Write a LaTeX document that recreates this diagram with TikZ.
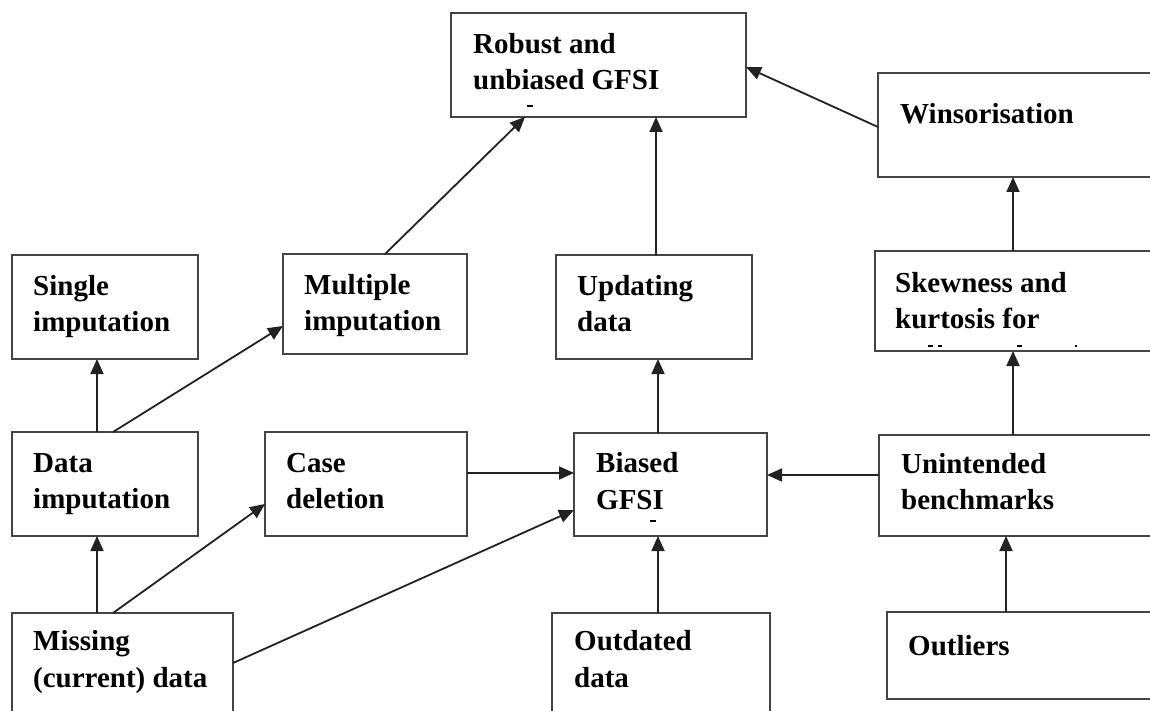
\documentclass[tikz,border=0pt]{standalone}
\usepackage{fontspec}
\setmainfont{Liberation Serif}
\usetikzlibrary{arrows.meta,calc}
\definecolor{boxc}{HTML}{444444}
\definecolor{arrc}{HTML}{222222}
\begin{document}
\begin{tikzpicture}[x=1pt,y=-1pt,
  box/.style={draw=boxc,line width=2.6pt,fill=white,rectangle,inner sep=0pt,outer sep=0pt},
  txt/.style={anchor=base west,inner sep=0pt,font=\fontsize{29}{36}\selectfont\bfseries,text=black},
  arr/.style={draw=arrc,line width=1.8pt,-{Triangle[length=15pt,width=13pt]}},
  clipmark/.style={draw=black,line width=1.6pt}
]
\useasboundingbox (0,0) rectangle (1150,711);
\clip (0,0) rectangle (1150,711);
\fill[white] (0,0) rectangle (1150,711);

% boxes
\node[box,minimum width=295,minimum height=104] (rob) at (598.5,65) {};
\node[box,minimum width=287,minimum height=104] (win) at (1021.5,125) {};
\node[box,minimum width=186,minimum height=104] (sing) at (105,307) {};
\node[box,minimum width=184,minimum height=100] (mult) at (375,304) {};
\node[box,minimum width=196,minimum height=104] (upd) at (654,307) {};
\node[box,minimum width=290,minimum height=100] (skew) at (1020,301) {};
\node[box,minimum width=186,minimum height=104] (dimp) at (105,484) {};
\node[box,minimum width=202,minimum height=104] (case) at (366,484) {};
\node[box,minimum width=193,minimum height=103] (bias) at (670.5,484.5) {};
\node[box,minimum width=286,minimum height=101] (unint) at (1022,485.5) {};
\node[box,minimum width=221,minimum height=117] (miss) at (122.5,671.5) {};
\node[box,minimum width=218,minimum height=117] (outd) at (661,671.5) {};
\node[box,minimum width=278,minimum height=87] (outl) at (1026,655.5) {};

% texts
\node[txt] (rob1) at (473,54) {Robust and};
\node[txt] (rob2) at (473,90) {unbiased GFSI};
\node[txt] (win1) at (900,124) {Winsorisation};
\node[txt] (sing1) at (33,295) {Single};
\node[txt] (sing2) at (33,331) {imputation};
\node[txt] (mult1) at (304,294) {Multiple};
\node[txt] (mult2) at (304,330) {imputation};
\node[txt] (upd1) at (577,295) {Updating};
\node[txt] (upd2) at (577,331) {data};
\node[txt] (skew1) at (895,292) {Skewness and};
\node[txt] (skew2) at (895,328) {kurtosis for};
\node[txt] (dimp1) at (33,472) {Data};
\node[txt] (dimp2) at (33,508) {imputation};
\node[txt] (case1) at (286,472) {Case};
\node[txt] (case2) at (286,508) {deletion};
\node[txt] (bias1) at (596,472) {Biased};
\node[txt] (bias2) at (596,509) {GFSI};
\node[txt] (unint1) at (901,473) {Unintended};
\node[txt] (unint2) at (901,509) {benchmarks};
\node[txt] (miss1) at (33,650) {Missing};
\node[txt] (miss2) at (33,687) {(current) data};
\node[txt] (outd1) at (574,650) {Outdated};
\node[txt] (outd2) at (574,687) {data};
\node[txt] (outl1) at (908,655) {Outliers};

% clipped remnants of hidden lines
\draw[clipmark] (527,106) -- (533,106);
\draw[clipmark] (650,521) -- (656,521);
\draw[clipmark] (928,346) -- (933,346);
\draw[clipmark] (938,346) -- (942,346);
\draw[clipmark] (1017,346) -- (1022,346);
\draw[clipmark] (1075,346) -- (1077,346);

% connectors
\draw[arr] (mult.north -| 385,0) -- (rob.south -| 525,0);
\draw[arr] (upd.north -| 656,0) -- (rob.south -| 656,0);
\draw[arr] (win.west |- 0,127) -- (rob.east |- 0,67);
\draw[arr] (skew.north -| 1013,0) -- (win.south -| 1013,0);
\draw[arr] (dimp.north -| 97,0) -- (sing.south -| 97,0);
\draw[arr] (dimp.north -| 113,0) -- (mult.west |- 0,326);
\draw[arr] (bias.north -| 658,0) -- (upd.south -| 658,0);
\draw[arr] (unint.north -| 1013,0) -- (skew.south -| 1013,0);
\draw[arr] (case.east |- 0,473) -- (bias.west |- 0,473);
\draw[arr] (unint.west |- 0,475) -- (bias.east |- 0,475);
\draw[arr] (miss.north -| 97,0) -- (dimp.south -| 97,0);
\draw[arr] (miss.north -| 113,0) -- (case.west |- 0,504);
\draw[arr] (miss.east |- 0,663) -- (bias.west |- 0,510);
\draw[arr] (outd.north -| 658,0) -- (bias.south -| 658,0);
\draw[arr] (outl.north -| 1006,0) -- (unint.south -| 1006,0);
\end{tikzpicture}
\end{document}
